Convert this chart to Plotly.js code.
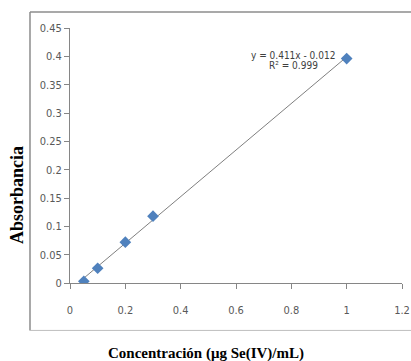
<!DOCTYPE html>
<html>
<head>
<meta charset="utf-8">
<script src="https://cdn.plot.ly/plotly-3.0.1.min.js"></script>
<style>html,body{margin:0;padding:0;background:#fff;}#chart{width:411px;height:361px;}</style>
</head>
<body>
<div id="chart"></div>
<script>
// Data
const concentration = [0.05, 0.1, 0.2, 0.3, 1.0];
const absorbance = [0.003, 0.026, 0.072, 0.118, 0.396];
// Trendline endpoints (y = 0.411x - 0.012)
const trendX = [0.05, 1.0];
const trendY = [0.0086, 0.399];
const equationText = "y = 0.411x - 0.012";
const r2Text = "R² = 0.999";
const xTicks = [0, 0.2, 0.4, 0.6, 0.8, 1, 1.2];
const yTicks = [0, 0.05, 0.1, 0.15, 0.2, 0.25, 0.3, 0.35, 0.4, 0.45];

const narrow = "Liberation Sans Narrow, DejaVu Sans Condensed, Arial Narrow, sans-serif";
const tickFont = {family: narrow, size: 11, color: "#595959"};
const serif = "Liberation Serif, Times New Roman, serif";

const traces = [
  {x: trendX, y: trendY, mode: "lines", line: {color: "#7f7f7f", width: 1}, hoverinfo: "skip", showlegend: false},
  {x: concentration, y: absorbance, mode: "markers", marker: {symbol: "diamond", size: 9, color: "#4F81BD"}, showlegend: false}
];

const layout = {
  width: 411, height: 361,
  margin: {l: 70, r: 9, t: 28, b: 78},
  paper_bgcolor: "#ffffff", plot_bgcolor: "#ffffff",
  showlegend: false,
  xaxis: {
    range: [0, 1.2], tickvals: xTicks, ticktext: xTicks.map(String),
    showgrid: false, zeroline: false, showline: true, linecolor: "#868686", linewidth: 1,
    ticks: "outside", ticklen: 5, tickcolor: "#868686", tickfont: tickFont,
    ticklabelstandoff: 12
  },
  yaxis: {
    range: [0, 0.45], tickvals: yTicks, ticktext: yTicks.map(String),
    showgrid: false, zeroline: false, showline: true, linecolor: "#868686", linewidth: 1,
    ticks: "outside", ticklen: 5, tickcolor: "#868686", tickfont: tickFont
  },
  shapes: [
    {type: "line", xref: "paper", yref: "paper", x0: -0.1205, x1: -0.1205, y0: -0.186, y1: 1.063, line: {color: "#8c8c8c", width: 1.5}},
    {type: "line", xref: "paper", yref: "paper", x0: -0.1205, x1: 1.05, y0: 1.063, y1: 1.063, line: {color: "#8c8c8c", width: 1.5}},
    {type: "line", xref: "paper", yref: "paper", x0: -0.1205, x1: 1.05, y0: -0.186, y1: -0.186, line: {color: "#bfbfbf", width: 1}}
  ],
  annotations: [
    {text: equationText, xref: "x", yref: "y", x: 0.965, y: 0.401, showarrow: false, xanchor: "right", yanchor: "middle", font: {family: narrow, size: 10, color: "#404040"}},
    {text: r2Text, xref: "x", yref: "y", x: 0.904, y: 0.383, showarrow: false, xanchor: "right", yanchor: "middle", font: {family: narrow, size: 10, color: "#404040"}},
    {text: "<b>Absorbancia</b>", xref: "paper", yref: "paper", x: (17 - 70) / 332, y: (283 - 195) / 255, xanchor: "center", yanchor: "middle", textangle: -90, showarrow: false, font: {family: serif, size: 18, color: "#000000"}},
    {text: "<b>Concentración (μg Se(IV)/mL)</b>", xref: "paper", yref: "paper", x: (206 - 70) / 332, y: (283 - 353) / 255, xanchor: "center", yanchor: "middle", showarrow: false, font: {family: serif, size: 15, color: "#000000"}}
  ]
};

Plotly.newPlot("chart", traces, layout, {displayModeBar: false, staticPlot: true});
</script>
</body>
</html>
